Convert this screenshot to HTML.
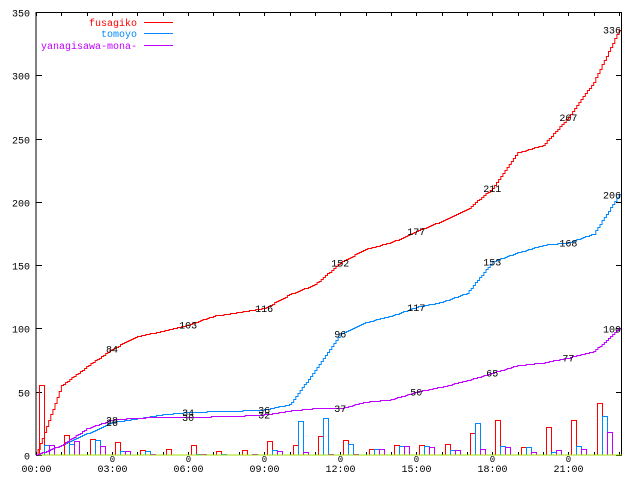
<!DOCTYPE html>
<html><head><meta charset="utf-8"><style>
html,body{margin:0;padding:0;background:#fff;width:640px;height:480px;overflow:hidden}
text{font-family:"Liberation Mono","DejaVu Sans Mono",monospace;font-size:10px}
</style></head><body>
<svg id="s" width="640" height="480" xmlns="http://www.w3.org/2000/svg"></svg>
<script>
var s=document.getElementById('s'),o='';
var X0=36,PH=25.35,Y0=455,PU=443/350;
function X(h){return X0+h*PH}function Y(v){return Y0-v*PU}
var R='#ff0000',B='#0088ff',P='#c000ff';
o+='<line x1="36" y1="12" x2="36" y2="455" stroke="#000"/>';
o+='<line x1="36" y1="12.5" x2="622" y2="12.5" stroke="#000"/>';
o+='<line x1="621.5" y1="12" x2="621.5" y2="455" stroke="#000"/>';
for(var v=0;v<=350;v+=50){var y=Math.round(Y(v))+.5;
o+='<line x1="36" y1="'+y+'" x2="42" y2="'+y+'" stroke="#000"/><line x1="616" y1="'+y+'" x2="622" y2="'+y+'" stroke="#000"/>';
o+='<text x="30" y="'+(y+4)+'" text-anchor="end">'+v+'</text>';}
for(var h=0;h<=23;h++){var x=Math.round(X(h))+.5;
o+='<line x1="'+x+'" y1="12" x2="'+x+'" y2="16" stroke="#000"/><line x1="'+x+'" y1="452" x2="'+x+'" y2="455" stroke="#000"/>';
if(h%3==0){o+='<text x="'+x+'" y="472" text-anchor="middle">'+(h<10?'0':'')+h+':00</text>';
if(h>0)o+='<text x="'+x+'" y="462" text-anchor="middle" style="font-size:9px">0</text>';}}
var br=[55,15.5,12.4,10,4,4.5,7.6,3,4,11,7.6,15,11.6,4.7,8,8,8.7,17,28,6,22,28,41];
var bb=[7.6,8.7,11.6,3,3,0,.5,1,0,4,27,29,8.7,4.7,7,7,4,25,7,6,2.4,7,31];
var bp=[8,11,7,3,1,0,.5,0,1,3,2.4,1,1,4.7,7,6,4,4.5,6,2.4,4,4.7,18];
function bars(a,off,c){for(var i=0;i<a.length;i++){if(a[i]<.3)continue;var x=Math.round(X(i))+off+.5,y=Math.round(Y(a[i]))+.5;
o+='<rect x="'+x+'" y="'+y+'" width="5" height="'+(Y0-y)+'" fill="none" stroke="'+c+'"/>';}}
bars(br,3,R);bars(bb,8,B);bars(bp,13,P);
o+='<line x1="36" y1="455" x2="622" y2="455" stroke="#a0e000"/>';
var cr=[0,55,70,84,94,98,103,110,113,116,127,135,152,163,168,177,185,194,211,239,245,267,295,336];
var cb=[0,8,17,26,29,32,34,34.5,35,36,40,67,96,105,110,117,121,128,153,160,166,168,175,206];
var cp=[0,8,21,28,29.5,30,30,30.5,31,32,35,37,37,42,44,50,54,59,65,71,73,77,82,100];
function line(a,c){var p='M'+X(0)+','+Y(0);
for(var i=0;i<a.length-1;i++){var n=12;for(var k=1;k<=n;k++){var t=k/n;var x=X(i+t);var v=a[i]+(a[i+1]-a[i])*t;var y=Math.round(Y(v))+.5;
p+=' H'+x.toFixed(1)+' V'+y;}}
p+=' H621';
o+='<path d="'+p+'" fill="none" stroke="'+c+'"/>';}
line(cr,R);line(cb,B);line(cp,P);
function lab(a){for(var h=3;h<=21;h+=3)o+='<text x="'+X(h)+'" y="'+(Y(a[h])+4)+'" text-anchor="middle">'+a[h]+'</text>';
o+='<text x="621" y="'+(Y(a[23])+4)+'" text-anchor="end">'+a[23]+'</text>';}
lab(cr);lab(cb);lab(cp);
var L=[['fusagiko',R,22],['tomoyo',B,33],['yanagisawa-mona-',P,45]];
L.forEach(function(l){o+='<text x="137" y="'+(l[2]+4)+'" text-anchor="end" fill="'+l[1]+'">'+l[0]+'</text><line x1="144" y1="'+(l[2]+.5)+'" x2="173" y2="'+(l[2]+.5)+'" stroke="'+l[1]+'"/>';});
s.innerHTML=o;
</script>
</body></html>
